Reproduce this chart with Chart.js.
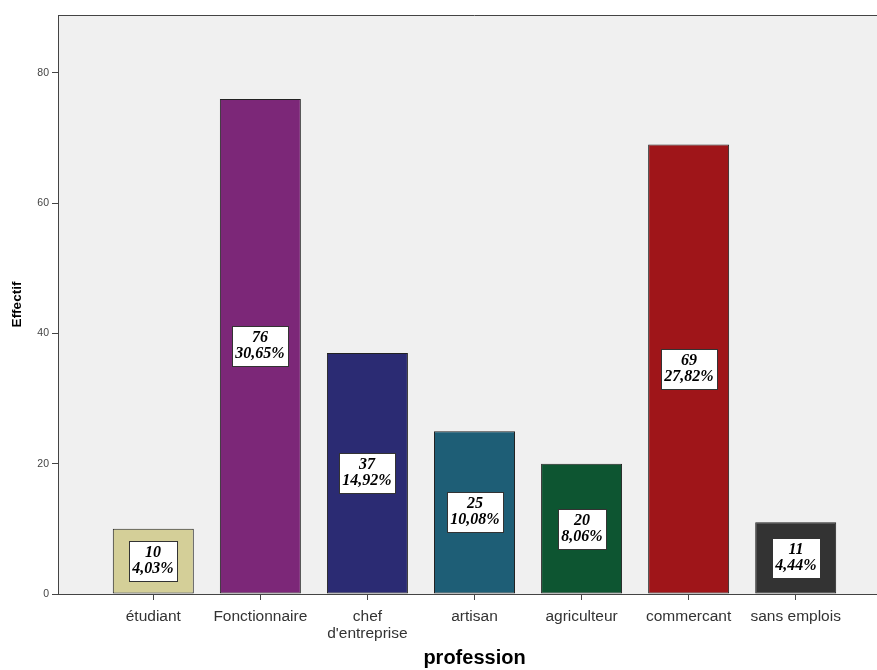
<!DOCTYPE html>
<html>
<head>
<meta charset="utf-8">
<script src="https://cdn.jsdelivr.net/npm/chart.js@4"></script>
<style>
  html, body { margin: 0; padding: 0; background: #ffffff; overflow: hidden; }
  #wrap { width: 891px; height: 670px; }
</style>
</head>
<body>
<div id="wrap"><canvas id="chart" width="891" height="670"></canvas></div>
<script>
// Effectifs par profession
const categories = ["étudiant", "Fonctionnaire", ["chef", "d'entreprise"], "artisan", "agriculteur", "commercant", "sans emplois"];
const counts = [10, 76, 37, 25, 20, 69, 11];
const barColors = ["#D4CF98", "#7C2778", "#2B2B73", "#1E5E76", "#0D5531", "#9F1519", "#333333"];
const yTicks = [0, 20, 40, 60, 80];

const total = counts.reduce((a, b) => a + b, 0);
const percents = counts.map(v => (v / total * 100).toFixed(2).replace('.', ',') + '%');

// Grey plot background with a dark frame line on top
const plotBackground = {
  id: 'plotBackground',
  beforeDraw(chart) {
    const { ctx, chartArea: a } = chart;
    ctx.save();
    ctx.fillStyle = '#F0F0F0';
    ctx.fillRect(a.left, a.top, a.right - a.left, a.bottom - a.top);
    ctx.strokeStyle = '#444444';
    ctx.lineWidth = 1;
    ctx.beginPath();
    ctx.moveTo(a.left, a.top + 0.5);
    ctx.lineTo(a.right, a.top + 0.5);
    ctx.stroke();
    ctx.restore();
  }
};

// Count and percentage in a white box at the middle of each bar
const barLabels = {
  id: 'barLabels',
  afterDatasetsDraw(chart) {
    const { ctx } = chart;
    const meta = chart.getDatasetMeta(0);
    ctx.save();
    ctx.font = 'italic bold 16px "Liberation Serif", "DejaVu Serif", serif';
    ctx.textAlign = 'center';
    ctx.textBaseline = 'middle';
    meta.data.forEach((bar, i) => {
      const lines = [String(counts[i]), percents[i]];
      const w = Math.round(Math.max(...lines.map(t => ctx.measureText(t).width)) + 7);
      const h = 40;
      const cx = Math.round(bar.x);
      const cy = Math.round((bar.y + bar.base) / 2);
      const x0 = Math.round(cx - w / 2) + 0.5;
      const y0 = Math.round(cy - h / 2) + 0.5;
      ctx.fillStyle = '#ffffff';
      ctx.fillRect(x0, y0, w, h);
      ctx.strokeStyle = '#333333';
      ctx.lineWidth = 1;
      ctx.strokeRect(x0, y0, w, h);
      ctx.fillStyle = '#000000';
      ctx.fillText(lines[0], cx, cy - 8);
      ctx.fillText(lines[1], cx, cy + 8);
    });
    ctx.restore();
  }
};

new Chart(document.getElementById('chart'), {
  type: 'bar',
  data: {
    datasets: [{
      data: counts.map((v, i) => ({ x: i, y: v })),
      backgroundColor: barColors,
      borderColor: '#222222',
      borderWidth: 1,
      borderSkipped: false,
      categoryPercentage: 1,
      barPercentage: 0.7565
    }]
  },
  options: {
    responsive: false,
    devicePixelRatio: 1,
    animation: false,
    layout: { padding: { top: 15, right: 0, bottom: 0, left: 0 } },
    plugins: {
      legend: { display: false },
      tooltip: { enabled: false }
    },
    scales: {
      x: {
        type: 'linear',
        offset: false,
        min: -0.89,
        max: 6.89,
        afterBuildTicks(scale) {
          scale.ticks = categories.map((_, i) => ({ value: i }));
        },
        afterFit(scale) { scale.height = 76; },
        ticks: {
          autoSkip: false,
          maxRotation: 0,
          minRotation: 0,
          padding: 8,
          color: '#333333',
          font: { family: '"Liberation Sans", Arial, sans-serif', size: 15.5, lineHeight: 1.1 },
          callback: (value) => categories[value]
        },
        grid: { offset: false, drawOnChartArea: false, drawTicks: true, tickLength: 6, color: '#444444', lineWidth: 1 },
        border: { display: true, color: '#444444', width: 1 },
        title: {
          display: true,
          text: 'profession',
          color: '#000000',
          padding: { top: 0, bottom: 0 },
          font: { family: '"Liberation Sans", Arial, sans-serif', size: 20, weight: 'bold' }
        }
      },
      y: {
        min: 0,
        max: 88.9,
        afterBuildTicks(scale) {
          scale.ticks = yTicks.map(v => ({ value: v }));
        },
        afterFit(scale) { scale.width = 58; },
        ticks: {
          padding: 3,
          color: '#444444',
          font: { family: '"Liberation Sans", Arial, sans-serif', size: 10.5 }
        },
        grid: { drawOnChartArea: false, drawTicks: true, tickLength: 6, color: '#444444', lineWidth: 1 },
        border: { display: true, color: '#444444', width: 1 },
        title: {
          display: true,
          text: 'Effectif',
          color: '#000000',
          padding: { top: 9, bottom: 0 },
          font: { family: '"Liberation Sans", Arial, sans-serif', size: 13.5, weight: 'bold' }
        }
      }
    }
  },
  plugins: [plotBackground, barLabels]
});
</script>
</body>
</html>
